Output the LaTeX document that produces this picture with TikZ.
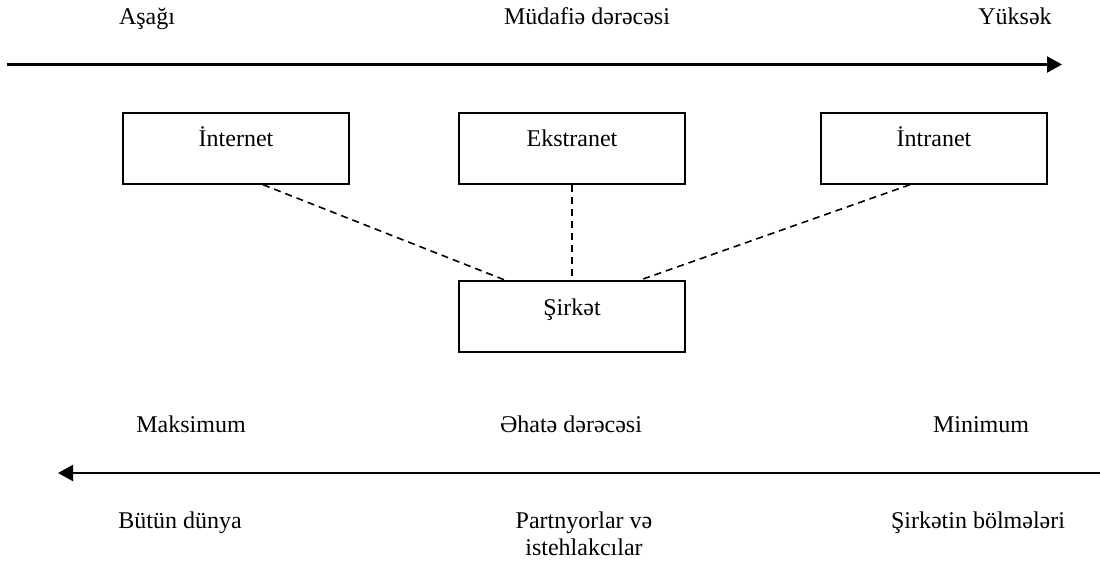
\documentclass[tikz,border=0pt]{standalone}
\usepackage{fontspec}
\setmainfont{Liberation Serif}
\usetikzlibrary{arrows.meta}
\begin{document}
\begin{tikzpicture}[x=1pt,y=-1pt,
  lbl/.style={font=\fontsize{24}{27}\selectfont, inner sep=0pt, anchor=base, align=center},
  netbox/.style={draw, line width=1.4pt, minimum width=226pt, minimum height=71pt, inner sep=0pt},
  link/.style={line width=1.6pt, dash pattern=on 7pt off 5pt},
  axis/.style={line width=2.2pt, -{Triangle[length=15pt,width=16pt]}}]
\useasboundingbox (0,0) rectangle (1100,562);

% protection scale (top)
\node[lbl] (low)  at (147,24) {Aşağı};
\node[lbl] (prot) at (587,24) {Müdafiə dərəcəsi};
\node[lbl] (high) at (1015,24) {Yüksək};
\coordinate (pa) at (7,64.5);
\coordinate (pb) at (1062,64.5);
\draw[axis] (pa) -- (pb);

% network boxes
\node[netbox] (internet)  at (236,148.5) {};
\node[netbox] (ekstranet) at (572,148.5) {};
\node[netbox] (intranet)  at (934,148.5) {};
\node[lbl] (internet-t)  at (236,146) {İnternet};
\node[lbl] (ekstranet-t) at (572,146) {Ekstranet};
\node[lbl] (intranet-t)  at (934,146) {İntranet};

% company box
\node[netbox] (sirket) at (572,316.3) {};
\node[lbl] (sirket-t) at (572,315) {Şirkət};

% dashed links
\draw[link] ([xshift=27pt]internet.south) -- ([xshift=-67pt]sirket.north);
\draw[link] (ekstranet.south) -- (sirket.north);
\draw[link] ([xshift=-24pt]intranet.south) -- ([xshift=68pt]sirket.north);

% coverage scale (bottom)
\node[lbl] (maks) at (191,432.5) {Maksimum};
\node[lbl] (cov)  at (571,432.5) {Əhatə dərəcəsi};
\node[lbl] (mini) at (981,432.5) {Minimum};
\coordinate (ca) at (1100,473);
\coordinate (cb) at (58,473);
\draw[axis] (ca) -- (cb);

\node[lbl] (world)    at (180,528) {Bütün dünya};
\node[lbl] (partners) at (584,555) {Partnyorlar və\\istehlakcılar};
\node[lbl] (units)    at (978,528) {Şirkətin bölmələri};
\end{tikzpicture}
\end{document}
